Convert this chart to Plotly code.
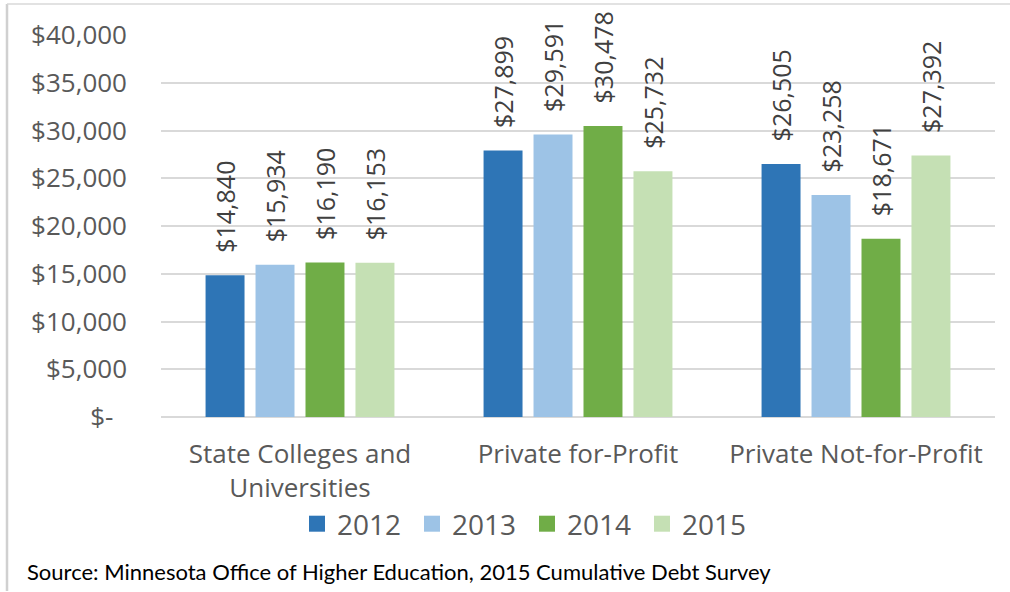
import plotly.graph_objects as go

categories = ["State Colleges and<br>Universities", "Private for-Profit", "Private Not-for-Profit"]
years = ["2012", "2013", "2014", "2015"]
values_2012 = [14840, 27899, 26505]
values_2013 = [15934, 29591, 23258]
values_2014 = [16190, 30478, 18671]
values_2015 = [16153, 25732, 27392]
series = [values_2012, values_2013, values_2014, values_2015]
colors = ["#2E75B6", "#9DC3E6", "#70AD47", "#C5E0B4"]
tick_vals = [0, 5000, 10000, 15000, 20000, 25000, 30000, 35000, 40000]
tick_text = ["$-\u00a0\u00a0", "$5,000", "$10,000", "$15,000", "$20,000", "$25,000",
             "$30,000", "$35,000", "$40,000"]
source = "Source: Minnesota Office of Higher Education, 2015 Cumulative Debt Survey"

FONT = "Open Sans"
fig = go.Figure()
for yr, vals, col in zip(years, series, colors):
    fig.add_trace(go.Bar(
        x=categories, y=vals, name=yr, marker_color=col, marker_line_width=0,
        texttemplate="\u00a0\u00a0\u00a0$%{y:,}", textposition="outside", textangle=-90,
        constraintext="none", cliponaxis=False,
        textfont=dict(family=FONT, size=25, color="#404040"),
        showlegend=False,
    ))
for yr, col in zip(years, colors):
    fig.add_trace(go.Scatter(
        x=[None], y=[None], mode="markers", name=yr,
        marker=dict(symbol="square", size=18, color=col),
    ))

W, H = 1010, 592
L, R, T, B = 161, 15, 35, 175
pw, ph = W - L - R, H - T - B

def px(x):
    return (x - L) / pw

def py(y):
    return (H - B - y) / ph

fig.update_layout(
    width=W, height=H,
    margin=dict(l=L, r=R, t=T, b=B, autoexpand=False),
    paper_bgcolor="white", plot_bgcolor="white",
    barmode="group", bargap=0.281, bargroupgap=0.22,
    font=dict(family=FONT, color="#595959"),
    legend=dict(orientation="h", x=px(527), y=py(524), xanchor="center", yanchor="middle",
                font=dict(family=FONT, size=28, color="#595959"),
                itemsizing="trace", entrywidth=70, traceorder="normal"),
    showlegend=True,
)
fig.update_xaxes(
    showgrid=False, showline=False, zeroline=False,
    ticks="outside", ticklen=14, tickcolor="rgba(0,0,0,0)",
    tickfont=dict(family=FONT, size=26, color="#595959"),
)
fig.update_yaxes(
    range=[0, 40000], tickvals=tick_vals, ticktext=tick_text,
    showgrid=True, gridcolor="#D9D9D9", gridwidth=1.5,
    zeroline=True, zerolinecolor="#D9D9D9", zerolinewidth=2,
    showline=False, ticks="", ticklabelstandoff=33,
    tickfont=dict(family=FONT, size=26, color="#595959"),
)
# chart frame (left and top edges)
fig.add_shape(type="line", xref="paper", yref="paper", x0=px(7), x1=px(7), y0=py(4), y1=py(H - 1),
              line=dict(color="#D0D0D0", width=2.5), layer="above")
fig.add_shape(type="line", xref="paper", yref="paper", x0=px(7), x1=px(W), y0=py(4), y1=py(4),
              line=dict(color="#D9D9D9", width=1.5), layer="above")
fig.add_annotation(text=source, xref="paper", yref="paper", x=px(25), y=py(571),
                   xanchor="left", yanchor="middle", showarrow=False,
                   font=dict(family="Lato", size=22, color="#000000"))

fig.write_html("out.html", config={"displayModeBar": False},
               post_script="document.body.style.margin='0';document.body.style.overflow='hidden';")
